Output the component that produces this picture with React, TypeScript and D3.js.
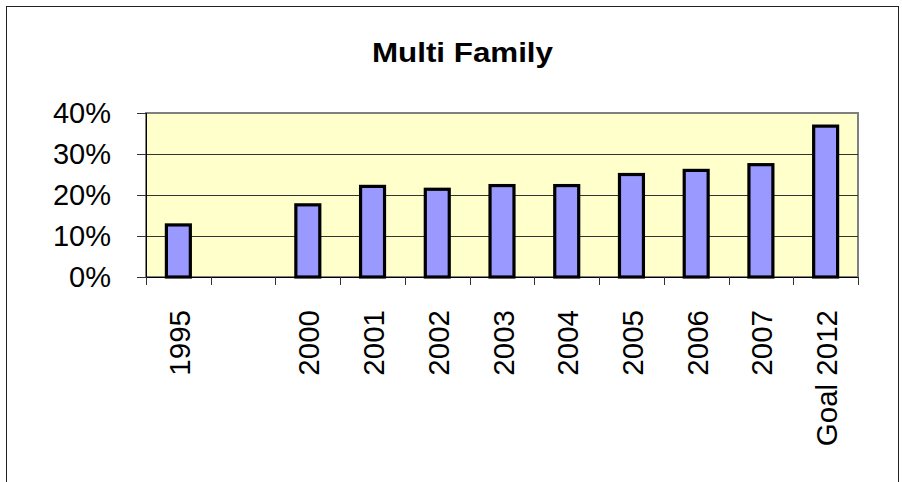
import React, { useRef, useEffect } from 'react';
import * as d3 from 'd3';

const title = 'Multi Family';
const categories = ['1995', '', '2000', '2001', '2002', '2003', '2004', '2005', '2006', '2007', 'Goal 2012'];
const shares = [12.7, null, 17.6, 22.1, 21.4, 22.3, 22.3, 25.0, 26.0, 27.4, 36.8];
const yTicks = [0, 10, 20, 30, 40];

export default function App() {
  const svgRef = useRef<SVGSVGElement>(null);

  useEffect(() => {
    const svg = d3.select(svgRef.current);
    svg.selectAll('*').remove();

    const plot = { left: 146, right: 858, top: 113, bottom: 277 };
    const font = '"Liberation Sans", Arial, sans-serif';

    // outer chart frame (bottom runs off the picture)
    svg.append('rect')
      .attr('x', 6.5).attr('y', 6.5)
      .attr('width', 892).attr('height', 490)
      .attr('fill', '#fff')
      .attr('stroke', '#222')
      .attr('stroke-width', 1);

    svg.append('text')
      .attr('x', (372 + 553) / 2)
      .attr('y', 62)
      .attr('text-anchor', 'middle')
      .attr('font-family', font)
      .attr('font-weight', 'bold')
      .attr('font-size', 28)
      .attr('textLength', 181)
      .attr('lengthAdjust', 'spacingAndGlyphs')
      .text(title);

    const x = d3.scaleBand<number>()
      .domain(d3.range(categories.length))
      .range([plot.left, plot.right])
      .padding(0);

    const y = d3.scaleLinear()
      .domain([0, 40])
      .range([plot.bottom, plot.top]);

    // plot area
    svg.append('rect')
      .attr('x', plot.left).attr('y', plot.top)
      .attr('width', plot.right - plot.left)
      .attr('height', plot.bottom - plot.top)
      .attr('fill', '#FFFFCC')
      .attr('stroke', '#808080')
      .attr('stroke-width', 2);

    // gridlines
    svg.append('g')
      .selectAll('line')
      .data(yTicks.filter(t => t > 0 && t < 40))
      .join('line')
      .attr('x1', plot.left).attr('x2', plot.right)
      .attr('y1', d => Math.round(y(d)) + 0.5)
      .attr('y2', d => Math.round(y(d)) + 0.5)
      .attr('stroke', '#333')
      .attr('stroke-width', 1);

    // bars
    const barW = x.step() * 0.37;
    svg.append('g')
      .selectAll('rect')
      .data(shares.map((v, i) => ({ v, i })).filter(d => d.v != null))
      .join('rect')
      .attr('x', d => x(d.i)! + x.step() / 2 - barW / 2)
      .attr('y', d => y(d.v as number))
      .attr('width', barW)
      .attr('height', d => plot.bottom - y(d.v as number))
      .attr('fill', '#9999FF')
      .attr('stroke', '#000')
      .attr('stroke-width', 3.2);

    // y axis
    const yAxis = svg.append('g')
      .attr('transform', `translate(${plot.left},0)`)
      .call(d3.axisLeft(y).tickValues(yTicks).tickSize(9).tickPadding(26).tickFormat(d => `${d}%`));
    yAxis.select('.domain').attr('stroke', '#000').attr('d', `M0.5,${plot.top}V${plot.bottom}`);
    yAxis.selectAll('.tick line').attr('stroke', '#333');
    yAxis.selectAll('text')
      .attr('font-family', font)
      .attr('font-size', 29)
      .attr('fill', '#000');

    // x axis: ticks at category boundaries
    const xg = svg.append('g');
    xg.append('line')
      .attr('x1', plot.left).attr('x2', plot.right)
      .attr('y1', plot.bottom + 0.5).attr('y2', plot.bottom + 0.5)
      .attr('stroke', '#000');
    xg.selectAll('line.tk')
      .data(d3.range(categories.length + 1))
      .join('line')
      .attr('class', 'tk')
      .attr('x1', i => Math.round(plot.left + i * x.step()) + 0.5)
      .attr('x2', i => Math.round(plot.left + i * x.step()) + 0.5)
      .attr('y1', plot.bottom).attr('y2', plot.bottom + 8)
      .attr('stroke', '#333');
    xg.selectAll('text')
      .data(categories.map((c, i) => ({ c, i })))
      .join('text')
      .attr('transform', d => `translate(${x(d.i)! + x.step() / 2 + 1},310) rotate(-90)`)
      .attr('text-anchor', 'end')
      .attr('dominant-baseline', 'central')
      .attr('font-family', font)
      .attr('font-size', 29.5)
      .text(d => d.c);
  }, []);

  return (
    <svg
      ref={svgRef}
      width={902}
      height={482}
      style={{ position: 'absolute', left: 0, top: 0, background: '#fff' }}
    />
  );
}
